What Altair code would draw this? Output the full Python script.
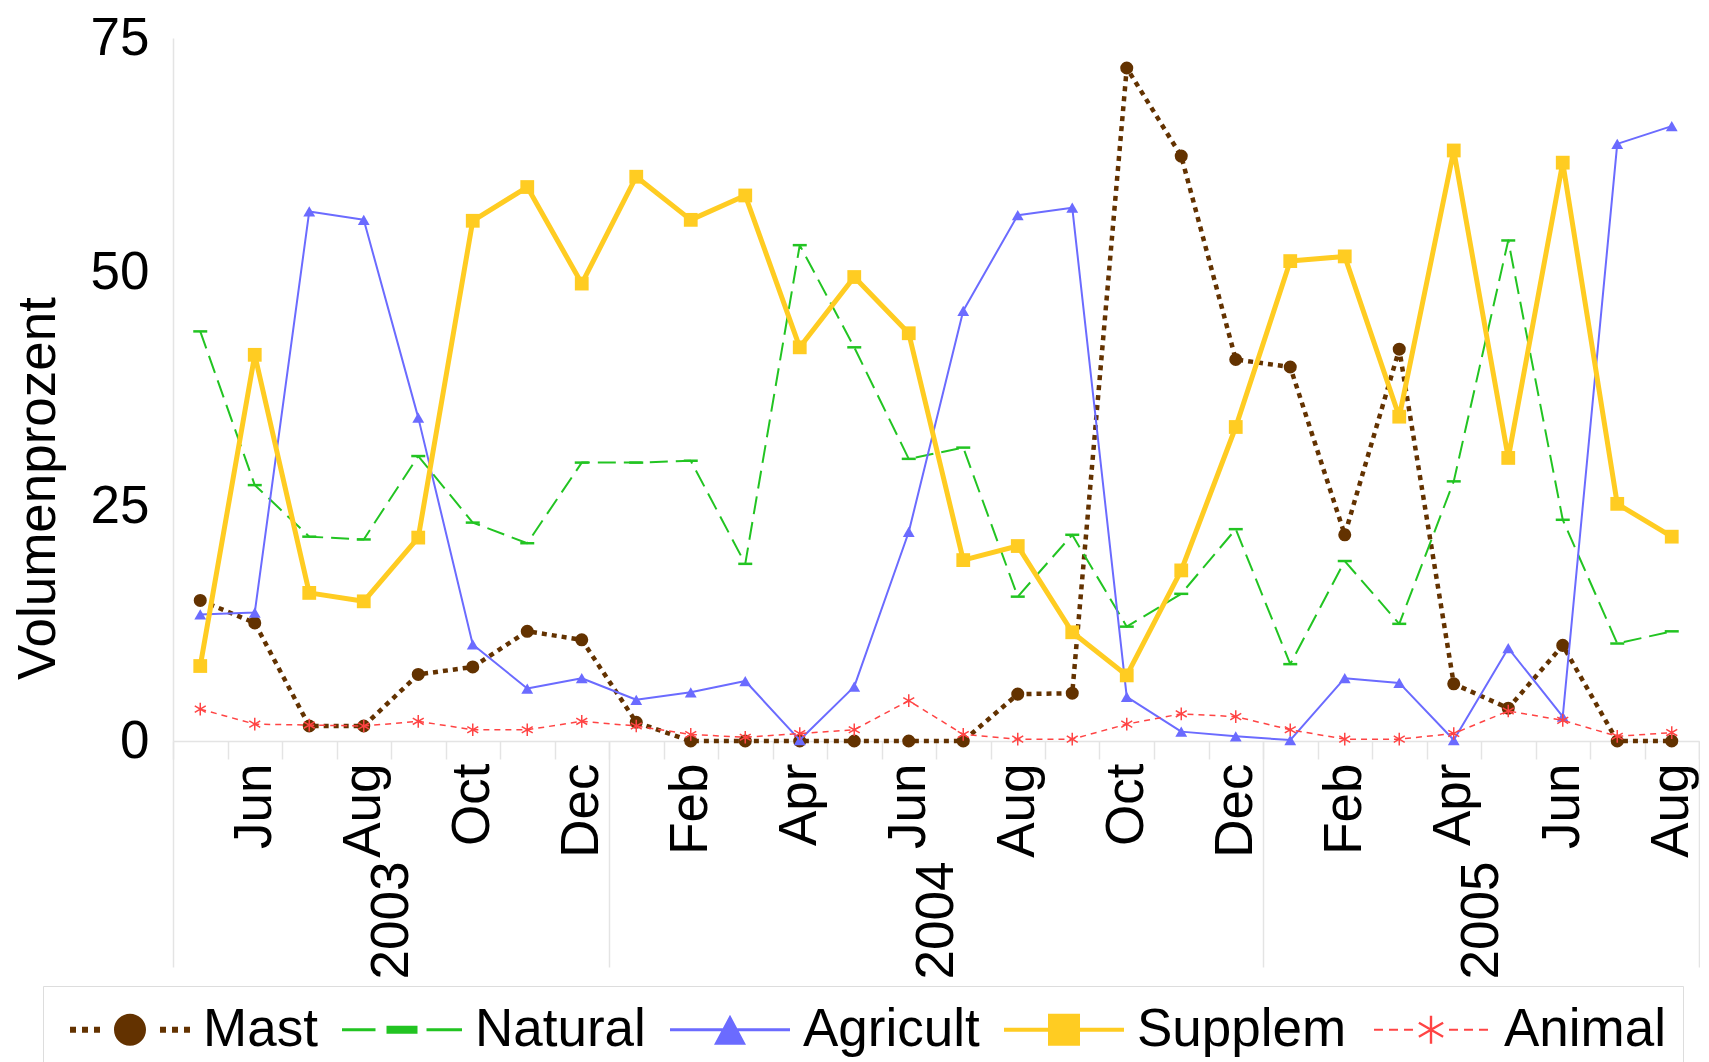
import altair as alt
import pandas as pd

# ---------------- data ----------------
months = ["May", "Jun", "Jul", "Aug", "Sep", "Oct", "Nov", "Dec",
          "Jan", "Feb", "Mar", "Apr", "May", "Jun", "Jul", "Aug", "Sep", "Oct", "Nov", "Dec",
          "Jan", "Feb", "Mar", "Apr", "May", "Jun", "Jul", "Aug"]
years = ["2003", "2004", "2005"]
year_pos = [3.5, 13.5, 23.5]
year_breaks = [-0.5, 7.5, 19.5, 27.5]
y_ticks = [0, 25, 50, 75]
series_names = ["Mast", "Natural", "Agricult", "Supplem", "Animal"]

mast = [15.0, 12.6, 1.6, 1.6, 7.1, 7.9, 11.7, 10.8, 2.0, 0.0, 0.0, 0.0, 0.0, 0.0,
        0.0, 5.0, 5.1, 71.8, 62.4, 40.7, 39.9, 22.0, 41.8, 6.1, 3.5, 10.2, 0.0, 0.0]
natural = [43.7, 27.3, 21.8, 21.5, 30.4, 23.3, 21.1, 29.7, 29.7, 29.9, 18.9, 52.9, 42.0, 30.1,
           31.3, 15.4, 22.0, 12.2, 15.7, 22.6, 8.2, 19.2, 12.5, 27.7, 53.4, 23.6, 10.4, 11.7]
agricult = [13.5, 13.7, 56.5, 55.6, 34.5, 10.3, 5.6, 6.7, 4.4, 5.2, 6.4, 0.1, 5.8, 22.3,
            45.9, 56.1, 56.9, 4.7, 1.0, 0.5, 0.1, 6.7, 6.2, 0.1, 9.9, 2.6, 63.7, 65.6]
supplem = [8.0, 41.2, 15.8, 14.9, 21.7, 55.5, 59.1, 48.8, 60.2, 55.6, 58.2, 42.0, 49.5, 43.5,
           19.3, 20.8, 11.6, 7.0, 18.2, 33.5, 51.2, 51.7, 34.6, 63.0, 30.2, 61.7, 25.3, 21.8]
animal = [3.4, 1.8, 1.7, 1.6, 2.1, 1.2, 1.2, 2.1, 1.6, 0.7, 0.4, 0.8, 1.2, 4.3,
          0.7, 0.2, 0.2, 1.8, 2.9, 2.6, 1.2, 0.2, 0.2, 0.8, 3.2, 2.2, 0.5, 0.9]

values = {"Mast": mast, "Natural": natural, "Agricult": agricult,
          "Supplem": supplem, "Animal": animal}
rows = []
for s in series_names:
    for i, v in enumerate(values[s]):
        rows.append({"series": s, "i": i, "v": v})
df = pd.DataFrame(rows)

# ---------------- styles ----------------
FONT = "Liberation Sans"
FS = 53
LIGHT = "#e4e4e4"
ASTER = "M0,-1L0,1M-0.866,-0.5L0.866,0.5M-0.866,0.5L0.866,-0.5"
styles = {
    "Mast":     dict(color="#633200", width=4.5, dash=[5, 5], shape="circle", size=170, filled=True, sw=0),
    "Natural":  dict(color="#22C422", width=2.0, dash=[18, 8], shape="M-1,0L1,0", size=196, filled=False, sw=2.5),
    "Agricult": dict(color="#6B6BFF", width=2.0, dash=None, shape="triangle-up", size=140, filled=True, sw=0),
    "Supplem":  dict(color="#FFCC22", width=5.0, dash=None, shape="square", size=190, filled=True, sw=0),
    "Animal":   dict(color="#FF4444", width=1.5, dash=[6, 5], shape=ASTER, size=160, filled=False, sw=1.5),
}

# legend symbols: custom paths (line + marker), in units of sqrt(size)/2
LEG_SIZE = 3025
U = (LEG_SIZE ** 0.5) / 2.0
SH = 11.0            # shift of the whole symbol to the right (px)
MX = 32.5 + SH       # marker centre (px) relative to symbol centre


def P(x):
    return f"{x / U:.4f}"


def rect(x0, x1, h):
    return f"M{P(x0)},{P(-h)}L{P(x1)},{P(-h)}L{P(x1)},{P(h)}L{P(x0)},{P(h)}Z"


def circle(cx, r):
    return (f"M{P(cx + r)},0A{P(r)},{P(r)} 0 1,1 {P(cx - r)},0"
            f"A{P(r)},{P(r)} 0 1,1 {P(cx + r)},0Z")


def tri(cx, w, h):
    return f"M{P(cx)},{P(-h)}L{P(cx + w)},{P(h)}L{P(cx - w)},{P(h)}Z"


def bar(cx, half, t, ang):
    import math
    a = math.radians(ang)
    ux, uy = math.cos(a), math.sin(a)
    px, py = -uy, ux
    pts = [(cx + ux * half + px * t, uy * half + py * t),
           (cx - ux * half + px * t, -uy * half + py * t),
           (cx - ux * half - px * t, -uy * half - py * t),
           (cx + ux * half - px * t, uy * half - py * t)]
    return "M" + "L".join(f"{P(x)},{P(y)}" for x, y in pts) + "Z"


L0, L1 = -27.5 + SH, 92.5 + SH
leg_paths = [
    "".join(rect(c - 3, c + 3, 3) for c in [L0 + 3, L0 + 15, L0 + 27, L1 - 27, L1 - 15, L1 - 3])
    + circle(MX, 16),
    rect(L0, MX - 26.5, 1.5) + rect(MX - 15.5, MX + 15.5, 4) + rect(MX + 24.5, L1, 1.5),
    rect(L0, L1, 1.5) + tri(MX, 16, 15),
    rect(L0, L1, 2) + rect(MX - 16, MX + 16, 16),
    "".join(rect(L0 + a, L0 + a + 9, 1.1) for a in [3, 18, 33, 78, 93, 108])
    + bar(MX, 14, 1.2, 90) + bar(MX, 14, 1.2, 30) + bar(MX, 14, 1.2, -30),
]

# ---------------- scales & axes ----------------
xscale = alt.Scale(domain=[-0.5, 27.5], nice=False, zero=False)
yscale = alt.Scale(domain=[0, 75], nice=False, zero=True)

month_expr = "[" + ",".join(f"'{m}'" for m in months) + "][round(datum.value)]"
year_expr = (f"datum.value < {year_breaks[1]} ? '{years[0]}' : "
             f"datum.value < {year_breaks[2]} ? '{years[1]}' : '{years[2]}'")

ax_months = alt.Axis(orient="bottom", values=[i for i in range(len(months)) if i % 2 == 1],
                     labelExpr=month_expr, labelAngle=270, labelAlign="right", labelBaseline="middle",
                     labelFontSize=FS, labelFont=FONT, labelColor="black", labelPadding=22,
                     ticks=False, domain=True, domainColor=LIGHT, domainWidth=1.5, grid=False,
                     title=None, labelOverlap=False, labelFlush=False, labelBound=False)
ax_ticks = alt.Axis(orient="bottom", values=[i - 0.5 for i in range(len(months) + 1)],
                    labels=False, ticks=True, tickSize=18, tickColor=LIGHT, tickWidth=1.5,
                    domain=False, grid=False, title=None)
ax_years = alt.Axis(orient="bottom", values=year_pos, labelExpr=year_expr, labelAngle=270,
                    labelAlign="right", labelBaseline="middle", labelFontSize=FS, labelFont=FONT,
                    labelColor="black", labelPadding=20, offset=100, ticks=False, domain=False,
                    grid=False, title=None, labelOverlap=False, labelFlush=False, labelBound=False)
ax_sep = alt.Axis(orient="bottom", values=year_breaks, labels=False, ticks=True, tickSize=226,
                  tickColor=LIGHT, tickWidth=1.5, domain=False, grid=False, title=None)
ax_y = alt.Axis(values=y_ticks, labelFontSize=FS, labelFont=FONT, labelColor="black",
                labelPadding=24, ticks=False, domain=True, domainColor=LIGHT, domainWidth=1.5,
                grid=False, title="Volumenprozent", titleFontSize=FS, titleFont=FONT,
                titleFontWeight="normal", titleColor="black", titleAngle=270,
                titleX=-135, titleY=450, titleBaseline="middle", titleAlign="center")

x_axes = [ax_months, ax_ticks, ax_years, ax_sep]
Y = alt.Y("v:Q", scale=yscale, axis=ax_y)

layers = []
k = 0
for n, s in enumerate(series_names):
    st = styles[s]
    base = alt.Chart(df).transform_filter(alt.datum.series == s)
    line_kw = dict(color=st["color"], strokeWidth=st["width"], strokeCap="butt", strokeJoin="round")
    if st["dash"]:
        line_kw["strokeDash"] = st["dash"]
    xa = x_axes[k] if k < len(x_axes) else None
    k += 1
    line = base.mark_line(**line_kw).encode(x=alt.X("i:Q", scale=xscale, axis=xa), y=Y)
    xa = x_axes[k] if k < len(x_axes) else None
    k += 1
    pt_kw = dict(shape=st["shape"], size=st["size"], filled=st["filled"], opacity=1)
    if st["filled"]:
        pt_kw["fill"] = st["color"]
        pt_kw["strokeWidth"] = 0
    else:
        pt_kw["stroke"] = st["color"]
        pt_kw["strokeWidth"] = st["sw"]
    pts = base.mark_point(**pt_kw).encode(x=alt.X("i:Q", scale=xscale, axis=xa), y=Y)
    layers += [line, pts]

leg = alt.Legend(orient="none", legendX=-130, legendY=948, direction="horizontal", title=None,
                 labelFontSize=FS, labelFont=FONT, labelColor="black", labelLimit=600,
                 symbolSize=LEG_SIZE, symbolStrokeWidth=0, symbolOpacity=1,
                 labelOffset=78 + SH, columnPadding=13, padding=16,
                 strokeColor="#dddddd", fillColor="white")

legend_layer = alt.Chart(df).transform_filter("false").mark_point(filled=True, opacity=1).encode(
    x=alt.X("i:Q", scale=xscale, axis=None),
    y=Y,
    color=alt.Color("series:N", scale=alt.Scale(domain=series_names,
                                                range=[styles[s]["color"] for s in series_names]),
                    legend=leg),
    shape=alt.Shape("series:N", scale=alt.Scale(domain=series_names, range=leg_paths), legend=leg),
)

chart = alt.layer(*layers, legend_layer).resolve_axis(x="independent").properties(
    width=1526, height=703, padding={"left": 4, "top": 4, "right": 0, "bottom": 0}
).configure_view(strokeWidth=0)

chart.save("out.html", embed_options={"renderer": "svg", "actions": False})
